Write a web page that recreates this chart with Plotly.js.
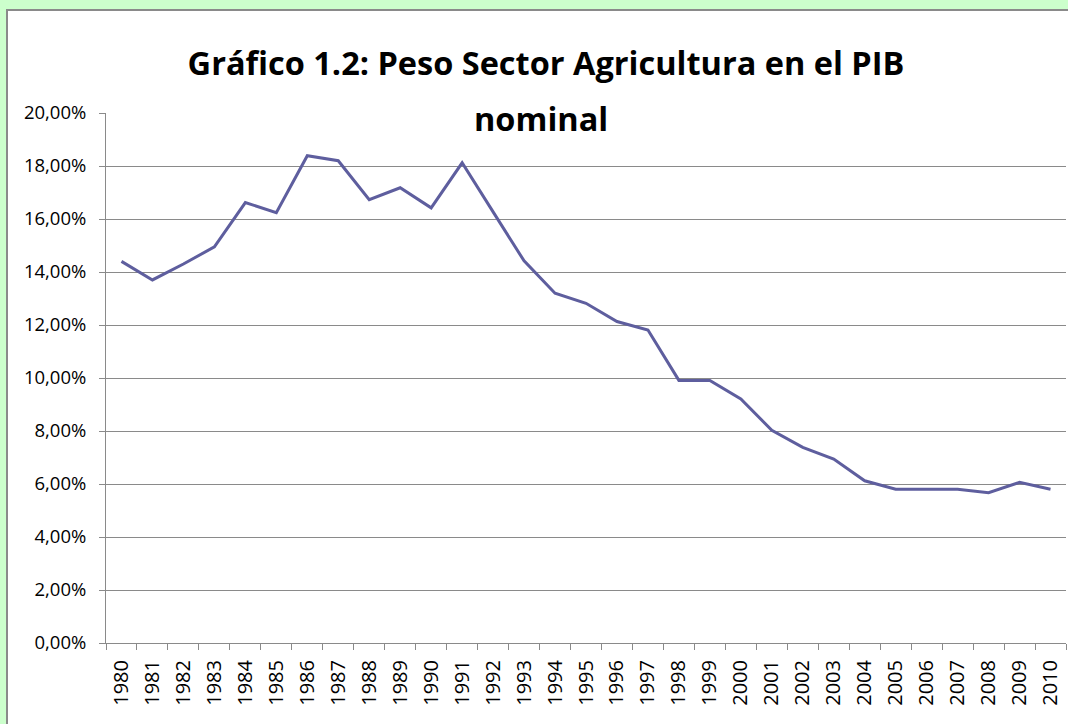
<!DOCTYPE html>
<html>
<head>
<meta charset="utf-8">
<script src="https://cdn.plot.ly/plotly-3.0.1.min.js"></script>
<style>
  html, body { margin: 0; padding: 0; width: 1068px; height: 724px; overflow: hidden; background: #CCFFCC; }
  #chart { width: 1068px; height: 724px; }
</style>
</head>
<body>
<div id="chart"></div>
<script>
const years = ["1980","1981","1982","1983","1984","1985","1986","1987","1988","1989",
               "1990","1991","1992","1993","1994","1995","1996","1997","1998","1999",
               "2000","2001","2002","2003","2004","2005","2006","2007","2008","2009","2010"];
const pesoAgricultura = [0.1440, 0.1370, 0.1430, 0.1495, 0.1662, 0.1624, 0.1839, 0.1820, 0.1673, 0.1718,
                         0.1642, 0.1812, 0.1627, 0.1442, 0.1320, 0.1282, 0.1213, 0.1181, 0.0991, 0.0991,
                         0.0921, 0.0803, 0.0738, 0.0694, 0.0612, 0.0580, 0.0580, 0.0580, 0.0567, 0.0606, 0.0580];
const yTicks = [0, 0.02, 0.04, 0.06, 0.08, 0.10, 0.12, 0.14, 0.16, 0.18, 0.20];
const titleLine1 = "Gráfico 1.2: Peso Sector Agricultura en el PIB";
const titleLine2 = "nominal";

const FONT = "'Open Sans', Lato, sans-serif";

const trace = {
  x: years, y: pesoAgricultura, type: "scatter", mode: "lines",
  line: { color: "#5E5E9E", width: 3 }, hoverinfo: "x+y"
};

const layout = {
  width: 1068, height: 724,
  margin: { l: 106, r: 2, t: 113, b: 81 },
  paper_bgcolor: "#CCFFCC", plot_bgcolor: "#ffffff",
  separators: ",.",
  showlegend: false,
  font: { family: FONT, color: "#000000" },
  shapes: [{
    type: "rect", xref: "paper", yref: "paper", layer: "below",
    x0: -0.103125, x1: 1.02, y0: -0.17, y1: 1.19434,
    fillcolor: "#ffffff", line: { color: "#8a8a8a", width: 2 }
  }],
  title: {
    text: titleLine1, x: 0.5112, xanchor: "center", y: 0.9116, yanchor: "middle",
    xref: "container", yref: "container",
    font: { family: FONT, size: 32.5, weight: "bold", color: "#000000" }
  },
  annotations: [{
    text: titleLine2, xref: "paper", yref: "paper", x: 0.4531, y: 0.9887,
    xanchor: "center", yanchor: "middle", showarrow: false,
    font: { family: FONT, size: 32.5, weight: "bold", color: "#000000" }
  }],
  xaxis: {
    type: "category", range: [-0.5, 30.5], tickson: "boundaries",
    ticks: "outside", ticklen: 6, tickcolor: "#8a8a8a", tickwidth: 1,
    showline: true, linecolor: "#8a8a8a", linewidth: 1,
    showgrid: false, tickangle: -90, ticklabelstandoff: 8,
    tickfont: { family: FONT, size: 20, color: "#000000" }
  },
  yaxis: {
    range: [0, 0.2], tickvals: yTicks,
    tickformat: ".2%", ticks: "outside", ticklen: 6, tickcolor: "#8a8a8a", tickwidth: 1,
    showline: true, linecolor: "#8a8a8a", linewidth: 1,
    showgrid: true, gridcolor: "#8a8a8a", gridwidth: 1, zeroline: false,
    ticklabelstandoff: 9,
    tickfont: { family: FONT, size: 18.5, color: "#000000" }
  }
};

Plotly.newPlot("chart", [trace], layout, { displayModeBar: false, staticPlot: true });
</script>
</body>
</html>
